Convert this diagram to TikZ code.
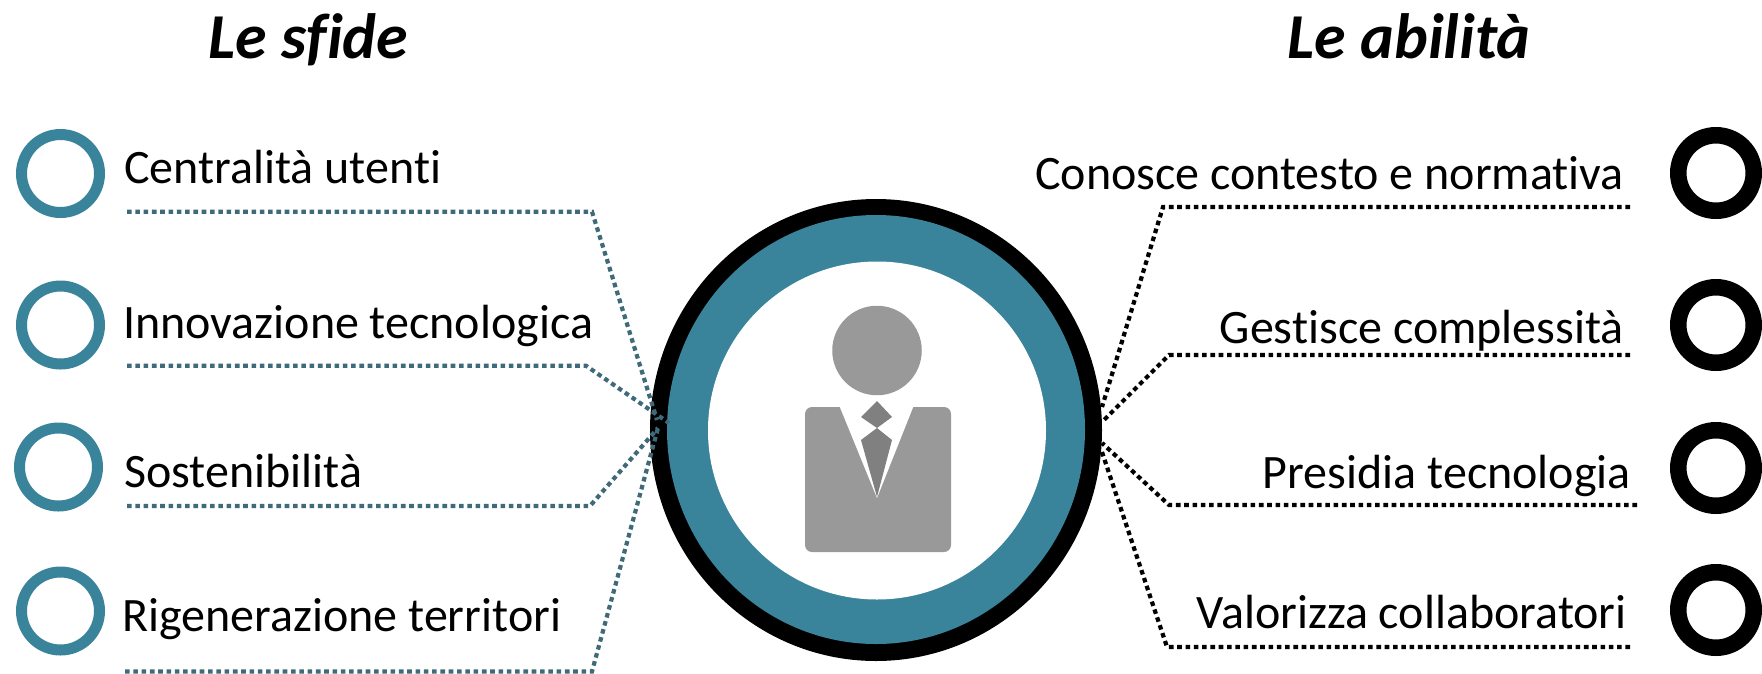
\documentclass[tikz,border=0pt]{standalone}
\usepackage{fontspec}
\setmainfont[Ligatures=NoCommon]{Carlito}
\usetikzlibrary{shapes.geometric}
\definecolor{ringteal}{HTML}{3A849B}
\definecolor{lineteal}{HTML}{3F6A7A}
\definecolor{suit}{HTML}{999999}
\definecolor{tiegrey}{HTML}{808080}
\tikzset{
  x=1pt,y=-1pt,
  lab/.style={font=\fontsize{48}{48}\selectfont,inner sep=0pt,text=black},
  labl/.style={lab,anchor=base west},
  labr/.style={lab,anchor=base east},
  ttl/.style={font=\fontsize{64}{64}\selectfont\bfseries\itshape,inner sep=0pt,anchor=base},
  ringL/.style={circle,draw=ringteal,line width=11pt,fill=white,minimum size=78pt,inner sep=0pt},
  ringR/.style={circle,draw=black,line width=16.5pt,fill=white,minimum size=75.5pt,inner sep=0pt},
  dotL/.style={draw=lineteal,line width=4.2pt,dash pattern=on 4.6pt off 3.7pt},
  dotR/.style={draw=black,line width=4.2pt,dash pattern=on 4.6pt off 3.7pt},
  suitfill/.style={fill=suit,draw=none},
}
\begin{document}
\begin{tikzpicture}
\useasboundingbox (0,0) rectangle (1762,673);
\node[ttl] (t1) at (308.5,58.5) {Le sfide};
\node[ttl] (t2) at (1409,58.5) {Le abilità};
% central disc
\node[ellipse,fill=black,draw=none,minimum width=452pt,minimum height=462pt,inner sep=0pt] (outer) at (876,430) {};
\node[ellipse,fill=ringteal,draw=none,minimum width=418pt,minimum height=429pt,inner sep=0pt] (mid) at (876,429.5) {};
\node[circle,fill=white,draw=none,minimum size=338pt,inner sep=0pt] (inner) at (877,430.5) {};
% person
\node[circle,suitfill,minimum size=89.5pt,inner sep=0pt] (head) at (877,350.5) {};
\fill[suit,rounded corners=7pt] (805,407) rectangle (951,552);
\fill[white] (839,405) -- (914,405) -- (877,498) -- cycle;
\fill[tiegrey] (877,401) -- (892,417) -- (877,428) -- (861,417) -- cycle;
\fill[tiegrey] (877,428) -- (892,440) -- (877,497) -- (861,440) -- cycle;
% left
\node[ringL] (a1) at (60.5,173.5) {};
\node[ringL] (a2) at (60.5,325) {};
\node[ringL] (a3) at (58.5,467) {};
\node[ringL] (a4) at (60.5,611) {};
\node[labl] (la1) at (124,183.5) {Centralità utenti};
\node[labl] (la2) at (123,338.5) {Innovazione tecnologica};
\node[labl] (la3) at (124,487.5) {Sostenibilità};
\node[labl] (la4) at (122,631.5) {Rigenerazione territori};
% right
\node[ringR] (b1) at (1716,173) {};
\node[ringR] (b2) at (1716,325) {};
\node[ringR] (b3) at (1716,468) {};
\node[ringR] (b4) at (1716,610) {};
\node[labr] (lb1) at (1624,189.5) {Conosce contesto e normativa};
\node[labr] (lb2) at (1624,343.5) {Gestisce complessità};
\node[labr] (lb3) at (1631,488.5) {Presidia tecnologia};
\node[labr] (lb4) at (1627,628.5) {Valorizza collaboratori};
% connector points
\coordinate (s1) at (127,211.7); \coordinate (e1) at (592,211.7); \coordinate (h1) at (657,420);
\coordinate (s2) at (127,365.7); \coordinate (e2) at (586,365.7); \coordinate (h2) at (669,423);
\coordinate (s3) at (127,506); \coordinate (e3) at (590,506); \coordinate (h3) at (658,428);
\coordinate (s4) at (125,671.5); \coordinate (e4) at (592,671.5); \coordinate (h4) at (658,428);
\coordinate (r1) at (1630,207); \coordinate (f1) at (1163,207); \coordinate (g1) at (1102,407);
\coordinate (r2) at (1630,355); \coordinate (f2) at (1169,355); \coordinate (g2) at (1102,422);
\coordinate (r3) at (1637,505); \coordinate (f3) at (1169,505); \coordinate (g3) at (1102,443);
\coordinate (r4) at (1630,647); \coordinate (f4) at (1167,647); \coordinate (g4) at (1102,452);
\draw[dotL] (s1) -- (e1) -- (h1);
\draw[dotL] (s2) -- (e2) -- (h2);
\draw[dotL] (s3) -- (e3) -- (h3);
\draw[dotL] (s4) -- (e4) -- (h4);
\draw[dotR] (r1) -- (f1) -- (g1);
\draw[dotR] (r2) -- (f2) -- (g2);
\draw[dotR] (r3) -- (f3) -- (g3);
\draw[dotR] (r4) -- (f4) -- (g4);
\end{tikzpicture}
\end{document}
